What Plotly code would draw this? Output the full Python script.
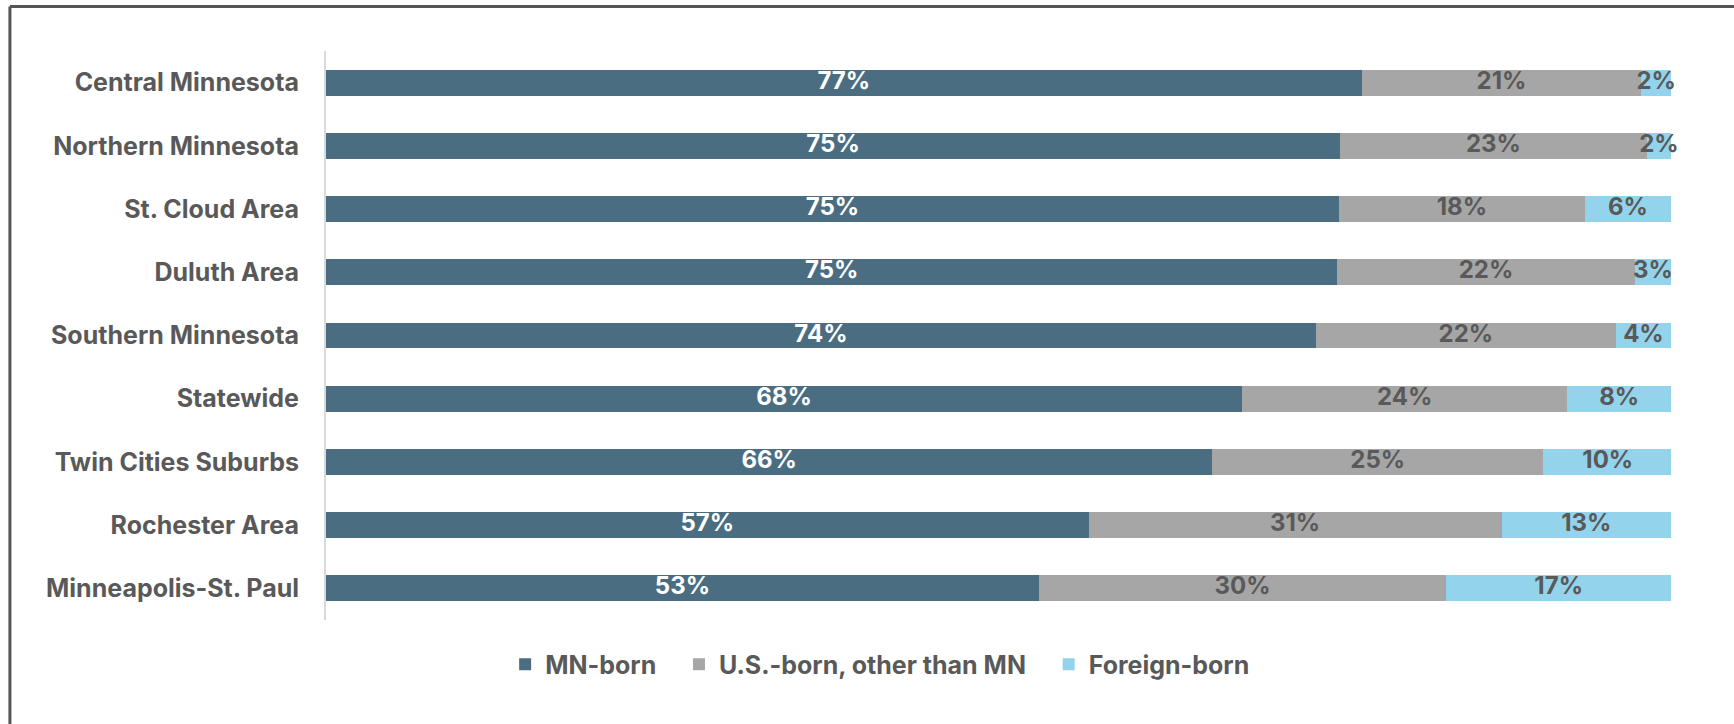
import plotly.graph_objects as go

# Share of population by place of birth, by region (percent)
REGIONS = [
    "Central Minnesota",
    "Northern Minnesota",
    "St. Cloud Area",
    "Duluth Area",
    "Southern Minnesota",
    "Statewide",
    "Twin Cities Suburbs",
    "Rochester Area",
    "Minneapolis-St. Paul",
]
MN_BORN = [77.0, 75.4, 75.3, 75.2, 73.6, 68.1, 65.9, 56.7, 53.0]
US_BORN_OTHER = [20.8, 22.8, 18.3, 22.1, 22.3, 24.2, 24.6, 30.7, 30.3]
FOREIGN_BORN = [2.2, 1.8, 6.4, 2.7, 4.1, 7.7, 9.6, 12.6, 16.7]

SERIES = [
    ("MN-born", MN_BORN, "#4a6d82", "white"),
    ("U.S.-born, other than MN", US_BORN_OTHER, "#a6a6a6", "#595959"),
    ("Foreign-born", FOREIGN_BORN, "#93d3ec", "#595959"),
]

FONT = "Inter"
DARK = "#595959"
PAD = "\u00a0" * 3  # extra room between legend entries

fig = go.Figure()
base = [0.0] * len(REGIONS)
for i, (name, vals, color, txtcolor) in enumerate(SERIES):
    fig.add_trace(go.Bar(
        y=REGIONS,
        x=vals,
        name=name + (PAD if i < len(SERIES) - 1 else ""),
        orientation="h",
        marker=dict(color=color, line=dict(width=0)),
        hoverinfo="skip",
    ))
    # data labels centred on each segment
    mids = [b + v / 2 for b, v in zip(base, vals)]
    fig.add_trace(go.Scatter(
        y=REGIONS,
        x=mids,
        mode="text",
        text=[f"{round(v)}%" for v in vals],
        textposition="middle center",
        textfont=dict(family=FONT, size=24, color=txtcolor, weight="bold"),
        cliponaxis=False,
        showlegend=False,
        hoverinfo="skip",
    ))
    base = [b + v for b, v in zip(base, vals)]

# frame lines around the chart (left and top)
fig.add_shape(type="line", xref="paper", yref="paper",
              x0=-0.235, x1=1.2, y0=1.078, y1=1.078,
              line=dict(color="#555555", width=3))
fig.add_shape(type="line", xref="paper", yref="paper",
              x0=-0.235, x1=-0.235, y0=1.078, y1=-0.3,
              line=dict(color="#555555", width=3))

fig.update_layout(
    barmode="stack",
    bargap=0.59,
    width=1734,
    height=724,
    margin=dict(l=326, r=63, t=51, b=104),
    plot_bgcolor="white",
    paper_bgcolor="white",
    font=dict(family=FONT, color=DARK),
    xaxis=dict(range=[0, 100], visible=False, fixedrange=True),
    yaxis=dict(
        autorange="reversed",
        showline=True,
        linecolor="#d9d9d9",
        linewidth=2,
        showgrid=False,
        ticks="",
        ticklabelstandoff=20,
        tickfont=dict(family=FONT, size=25, color=DARK, weight="bold"),
    ),
    legend=dict(
        orientation="h",
        x=0.412,
        xanchor="center",
        y=-0.078,
        yanchor="middle",
        traceorder="normal",
        font=dict(family=FONT, size=25, color=DARK, weight="bold"),
        itemwidth=30,
    ),
    showlegend=True,
)

fig.write_html(
    "out.html",
    config={"displayModeBar": False},
    post_script="document.body.style.margin='0';",
)
